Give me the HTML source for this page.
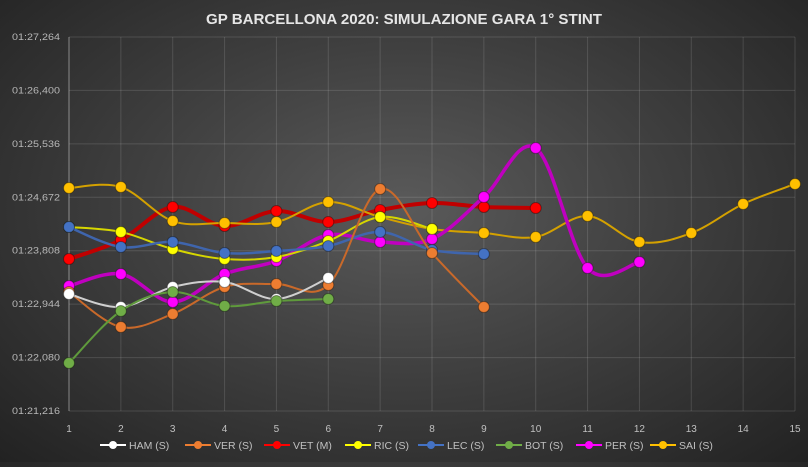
<!DOCTYPE html>
<html><head><meta charset="utf-8"><style>
html,body{margin:0;padding:0;}
body{width:808px;height:462px;overflow:hidden;background:radial-gradient(ellipse at 50% 45%,#5a5a5a 0%,#404040 45%,#222 100%);font-family:"Liberation Sans",sans-serif;}
svg text{font-family:"Liberation Sans",sans-serif;}
</style></head><body>
<svg id="chart" width="808" height="462" xmlns="http://www.w3.org/2000/svg">
<text x="404" y="24" text-anchor="middle" fill="#e6e6e6" font-size="14.5" font-weight="bold" textLength="396" lengthAdjust="spacingAndGlyphs">GP BARCELLONA 2020: SIMULAZIONE GARA 1° STINT</text>
<g id="grid"></g><g id="series"></g><g id="legend"></g>
</svg>
<script>
const laps=[1,2,3,4,5,6,7,8,9,10,11,12,13,14,15];
const yTicks=[81.216,82.080,82.944,83.808,84.672,85.536,86.400,87.264];
const yTickLabels=["01:21,216","01:22,080","01:22,944","01:23,808","01:24,672","01:25,536","01:26,400","01:27,264"];
const seriesNames=["HAM (S)","VER (S)","VET (M)","RIC (S)","LEC (S)","BOT (S)","PER (S)","SAI (S)"];
const seriesColors=["#ffffff","#ed7d31","#ff0000","#ffff00","#4472c4","#70ad47","#ff00ff","#ffc000"];
const lineColors=["#cfcfcf","#c9692a","#c00000","#d6d600","#3f65ad","#5f9a3c","#c000c0","#d4a100"];
const lineWidths=[2,2,4,2,2.5,2,3.5,2];
const hamValues=[83.108,82.898,83.221,83.302,83.027,83.367];
const verValues=[83.140,82.574,82.785,83.221,83.270,83.254,84.806,83.771,82.898];
const vetValues=[83.674,83.981,84.515,84.208,84.450,84.272,84.466,84.580,84.515,84.499];
const ricValues=[84.191,84.111,83.836,83.674,83.706,83.965,84.353,84.159];
const lecValues=[84.191,83.868,83.949,83.771,83.803,83.884,84.111,83.820,83.755];
const botValues=[81.992,82.833,83.140,82.914,82.995,83.027];
const perValues=[83.237,83.431,82.979,83.431,83.642,84.062,83.949,83.997,84.677,85.469,83.528,83.625];
const saiValues=[84.822,84.838,84.288,84.256,84.272,84.596,84.353,84.159,84.094,84.030,84.369,83.949,84.094,84.563,84.887];
const allValues=[hamValues,verValues,vetValues,ricValues,lecValues,botValues,perValues,saiValues];
const drawOrder=[2,7,6,3,4,1,0,5];

const NS="http://www.w3.org/2000/svg";
const X0=69,X1=795,Y0=411,Y1=37;
const yMin=yTicks[0],yMax=yTicks[yTicks.length-1];
function xs(l){return X0+(l-laps[0])/(laps[laps.length-1]-laps[0])*(X1-X0);}
function ys(v){return Y0-(v-yMin)/(yMax-yMin)*(Y0-Y1);}
function mk(tag,attrs,parent){const e=document.createElementNS(NS,tag);for(const k in attrs)e.setAttribute(k,attrs[k]);parent.appendChild(e);return e;}

const grid=document.getElementById('grid');
yTicks.forEach((t,i)=>{
  const ln=mk('line',{x1:X0,x2:X1,y1:ys(t),y2:ys(t),stroke:'rgba(255,255,255,0.13)','stroke-width':1},grid);
  
  
  const tx=mk('text',{x:60,y:ys(t)+3,'text-anchor':'end',fill:'#b8b8b8','font-size':'9.5',textLength:'48',lengthAdjust:'spacingAndGlyphs'},grid);
  tx.textContent=yTickLabels[i];
  
  
});
laps.forEach(l=>{
  const ln=mk('line',{x1:xs(l),x2:xs(l),y1:Y1,y2:Y0,stroke:'rgba(255,255,255,0.13)','stroke-width':1},grid);
  
  
  const tx=mk('text',{x:xs(l),y:432,'text-anchor':'middle',fill:'#c0c0c0','font-size':'10'},grid);
  tx.textContent=l;
  
  
});
const ax=mk('line',{x1:X0,x2:X0,y1:Y1,y2:Y0,stroke:'rgba(255,255,255,0.35)','stroke-width':1},grid);



function smoothPath(pts){
  let d='M'+pts[0][0]+','+pts[0][1];
  for(let i=0;i<pts.length-1;i++){
    const p0=pts[i-1]||pts[i],p1=pts[i],p2=pts[i+1],p3=pts[i+2]||p2;
    const t=0.17;
    const c1=[p1[0]+(p2[0]-p0[0])*t,p1[1]+(p2[1]-p0[1])*t];
    const c2=[p2[0]-(p3[0]-p1[0])*t,p2[1]-(p3[1]-p1[1])*t];
    d+=' C'+c1[0]+','+c1[1]+' '+c2[0]+','+c2[1]+' '+p2[0]+','+p2[1];
  }
  return d;
}
const sg=document.getElementById('series');
drawOrder.forEach(si=>{
  const vals=allValues[si];
  const g=mk('g',{},sg);
  
  
  const pts=vals.map((v,i)=>[xs(laps[i]),ys(v)]);
  const p=mk('path',{d:smoothPath(pts),fill:'none',stroke:lineColors[si],'stroke-width':lineWidths[si],'stroke-linecap':'round'},g);
  
  
  pts.forEach(pt=>{
    const c=mk('circle',{cx:pt[0],cy:pt[1],r:5.5,fill:seriesColors[si],stroke:'rgba(0,0,0,0.35)','stroke-width':1},g);
    
    
  });
});

const lg=document.getElementById('legend');
const legendX=[100,185,264,345,418,496,576,650];
seriesNames.forEach((n,i)=>{
  const g=mk('g',{},lg);
  
  
  const x=legendX[i];
  mk('line',{x1:x,x2:x+26,y1:445,y2:445,stroke:seriesColors[i],'stroke-width':2},g);
  mk('circle',{cx:x+13,cy:445,r:4,fill:seriesColors[i]},g);
  const t=mk('text',{x:x+29,y:449,fill:'#c0c0c0','font-size':'10.5'},g);
  t.textContent=n;
});
</script>
</body></html>
